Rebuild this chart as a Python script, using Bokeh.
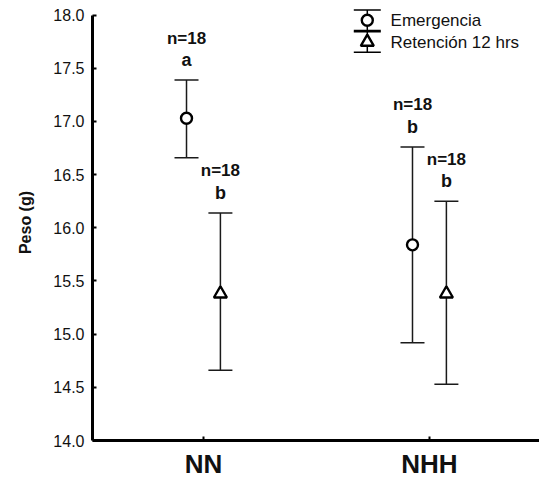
from bokeh.plotting import figure
from bokeh.models import (ColumnDataSource, Whisker, TeeHead, FixedTicker,
                          PrintfTickFormatter, Range1d)
from bokeh.core.properties import value
from bokeh.embed import file_html
from bokeh.resources import INLINE

# ---- data ----
groups = ["NN", "NHH"]
group_pos = [1, 2]
series_names = ["Emergencia", "Retención 12 hrs"]

emerg_mean = [17.03, 15.84]
emerg_upper = [17.39, 16.76]
emerg_lower = [16.66, 14.92]
emerg_n = ["n=18", "n=18"]
emerg_letter = ["a", "b"]

ret_mean = [15.38, 15.38]
ret_upper = [16.14, 16.25]
ret_lower = [14.66, 14.53]
ret_n = ["n=18", "n=18"]
ret_letter = ["b", "b"]

y_ticks = [14.0, 14.5, 15.0, 15.5, 16.0, 16.5, 17.0, 17.5, 18.0]

FONT = value("Liberation Sans")
DODGE = 0.075

p = figure(width=539, height=481, output_backend="svg", toolbar_location=None,
           x_range=Range1d(0.509, 2.487), y_range=Range1d(14.0, 18.1),
           min_border_left=92, min_border_right=0, min_border_top=4,
           min_border_bottom=41)
p.outline_line_color = None
p.xgrid.visible = False
p.ygrid.visible = False
p.background_fill_color = "white"
p.border_fill_color = "white"


def add_series(means, upper, lower, ns, letters, offset, marker, size):
    xs = [g + offset for g in group_pos]
    src = ColumnDataSource(dict(x=xs, y=means, upper=upper, lower=lower,
                                n=ns, letter=letters))
    w = Whisker(base="x", upper="upper", lower="lower", source=src,
                dimension="height", line_color="#1a1a1a", line_width=1.5,
                upper_head=TeeHead(size=24, line_color="#1a1a1a", line_width=1.5),
                lower_head=TeeHead(size=24, line_color="#1a1a1a", line_width=1.5))
    p.add_layout(w)
    p.scatter("x", "y", source=src, marker=marker, size=size,
              fill_color="white", line_color="black", line_width=2.4)
    p.text("x", "upper", text="n", source=src, y_offset=-42,
           text_align="center", text_baseline="middle", text_font=FONT,
           text_font_style="bold", text_font_size="17px", text_color="#111111")
    p.text("x", "upper", text="letter", source=src, y_offset=-20,
           text_align="center", text_baseline="middle", text_font=FONT,
           text_font_style="bold", text_font_size="18px", text_color="#111111")


add_series(emerg_mean, emerg_upper, emerg_lower, emerg_n, emerg_letter,
           -DODGE, "circle", 11)
add_series(ret_mean, ret_upper, ret_lower, ret_n, ret_letter,
           DODGE, "triangle", 13)

# ---- legend (drawn as decoration in the top-right corner) ----
leg_x = 1.725
leg_text_x = 1.828
leg_y = [17.952, 17.747]
leg_half = 0.097
leg_src = ColumnDataSource(dict(
    x=[leg_x, leg_x], y=leg_y,
    upper=[v + leg_half for v in leg_y], lower=[v - leg_half for v in leg_y],
    tx=[leg_text_x, leg_text_x], label=series_names))
p.add_layout(Whisker(base="x", upper="upper", lower="lower", source=leg_src,
                     dimension="height", line_color="black", line_width=1.5,
                     upper_head=TeeHead(size=27, line_color="black", line_width=1.5),
                     lower_head=TeeHead(size=27, line_color="black", line_width=1.5)))
p.scatter(x=[leg_x], y=[leg_y[0]], marker="circle", size=11,
          fill_color="white", line_color="black", line_width=2.4)
p.scatter(x=[leg_x], y=[leg_y[1]], marker="triangle", size=13,
          fill_color="white", line_color="black", line_width=2.4)
p.text("tx", "y", text="label", source=leg_src, text_align="left",
       text_baseline="middle", text_font=FONT, text_font_size="17px",
       text_color="#111111")

# ---- axes ----
for ax in (p.xaxis[0], p.yaxis[0]):
    ax.axis_line_width = 3
    ax.axis_line_color = "black"
    ax.major_tick_in = 4
    ax.major_tick_out = 0
    ax.major_tick_line_width = 2
    ax.major_tick_line_color = "black"
    ax.minor_tick_line_color = None
    ax.major_label_text_font = "Liberation Sans"
    ax.major_label_text_color = "#111111"

p.yaxis[0].ticker = FixedTicker(ticks=y_ticks)
p.yaxis[0].formatter = PrintfTickFormatter(format="%.1f")
p.yaxis[0].bounds = (14.0, 18.0)
p.yaxis[0].major_label_text_font_size = "16px"
p.yaxis[0].major_label_standoff = 8
p.yaxis[0].axis_label = "Peso (g)"
p.yaxis[0].axis_label_text_font = "Liberation Sans"
p.yaxis[0].axis_label_text_font_style = "bold"
p.yaxis[0].axis_label_text_font_size = "16px"
p.yaxis[0].axis_label_standoff = 16
p.yaxis[0].axis_label_text_color = "#111111"

p.xaxis[0].ticker = FixedTicker(ticks=group_pos)
p.xaxis[0].major_label_overrides = {g: name for g, name in zip(group_pos, groups)}
p.xaxis[0].major_label_text_font_size = "26px"
p.xaxis[0].major_label_text_font_style = "bold"
p.xaxis[0].major_label_standoff = 8

open("out.html", "w").write(file_html(p, INLINE))
